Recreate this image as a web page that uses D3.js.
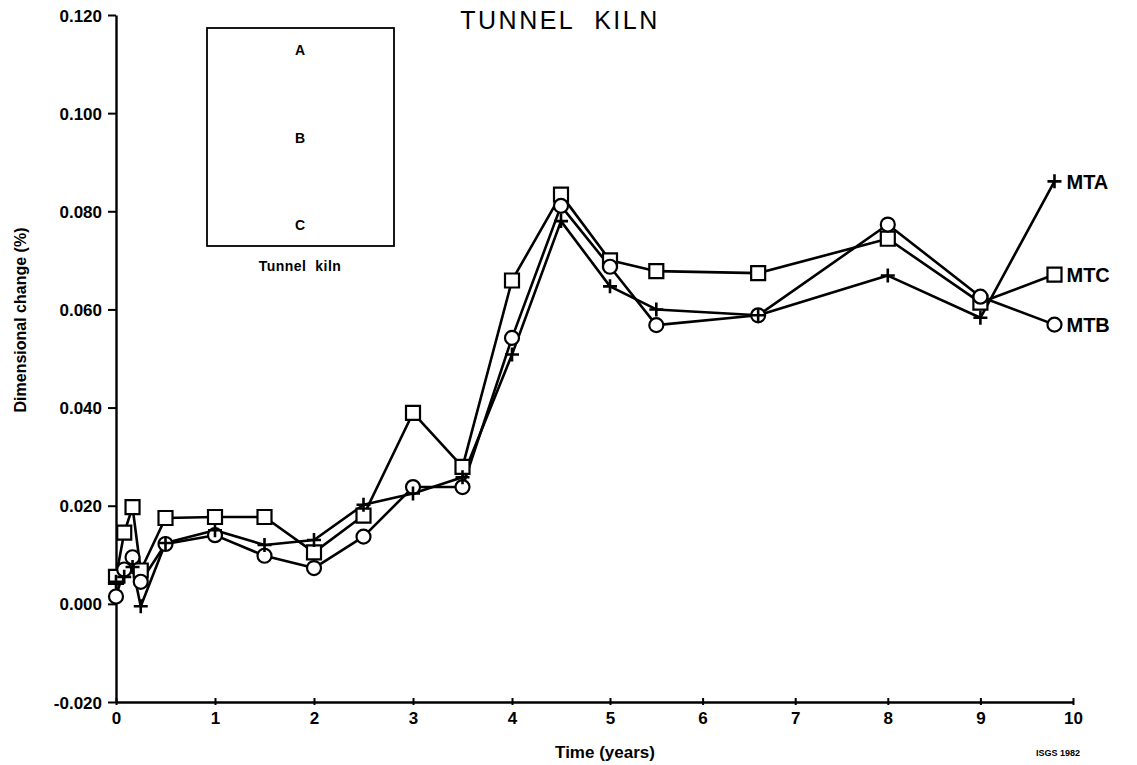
<!DOCTYPE html>
<html>
<head>
<meta charset="utf-8">
<script src="https://cdn.jsdelivr.net/npm/d3@7"></script>
<style>
  body { margin: 0; background: #fff; }
  svg { display: block; }
  text { font-family: "Liberation Sans", Arial, sans-serif; fill: #000; }
</style>
</head>
<body>
<svg id="chart" width="1137" height="765"></svg>
<script>
// time of each reading, years
const times = [0, 0.083, 0.167, 0.25, 0.5, 1, 1.5, 2, 2.5, 3, 3.5, 4, 4.5, 5, 5.5, 6.6, 8, 9, 9.8];
// dimensional change (%) per sample
const mta = [0.0045, 0.0055, 0.0075, -0.0005, 0.0124, 0.0150, 0.0120, 0.0130, 0.0202, 0.0225, 0.0258, 0.0508, 0.0780, 0.0647, 0.0600, 0.0588, 0.0669, 0.0583, 0.0861];
const mtb = [0.0015, 0.0070, 0.0095, 0.0045, 0.0122, 0.0140, 0.0098, 0.0073, 0.0137, 0.0238, 0.0238, 0.0542, 0.0811, 0.0687, 0.0568, 0.0588, 0.0773, 0.0626, 0.0569];
const mtc = [0.0055, 0.0145, 0.0197, 0.0068, 0.0175, 0.0177, 0.0177, 0.0105, 0.0180, 0.0389, 0.0279, 0.0659, 0.0834, 0.0700, 0.0678, 0.0674, 0.0744, 0.0614, 0.0671];
const seriesNames = ["MTC", "MTB", "MTA"];
const seriesSymbols = ["square", "circle", "cross"];

const xTicks = [0, 1, 2, 3, 4, 5, 6, 7, 8, 9, 10];
const xTickLabels = ["0", "1", "2", "3", "4", "5", "6", "7", "8", "9", "10"];
const yTicks = [-0.02, 0, 0.02, 0.04, 0.06, 0.08, 0.10, 0.12];
const yTickLabels = ["-0.020", "0.000", "0.020", "0.040", "0.060", "0.080", "0.100", "0.120"];
const insetLabels = ["A", "B", "C"];

const svg = d3.select("#chart");

// the scanned axis is a little uneven, so the x scale has a couple of breakpoints
const xScale = d3.scaleLinear().domain([0, 4, 5, 10]).range([116, 512, 610, 1073]);
const yScale = d3.scaleLinear().domain([-0.02, 0.12]).range([702, 15]);

// axes
const yAxis = svg.append("g")
    .attr("transform", `translate(${xScale(0)},0)`)
    .call(d3.axisLeft(yScale).tickValues(yTicks)
        .tickFormat((d, i) => yTickLabels[i]).tickSize(8).tickSizeOuter(0).tickPadding(6));
yAxis.select(".domain").attr("stroke", "#000").attr("stroke-width", 2.4);
yAxis.selectAll(".tick line").attr("stroke", "#000").attr("stroke-width", 2);
yAxis.selectAll(".tick text")
    .style("font-size", "17px").style("font-weight", "bold").attr("dy", "0.36em");

const xAxis = svg.append("g")
    .attr("transform", `translate(0,${yScale(-0.02)})`)
    .call(d3.axisBottom(xScale).tickValues(xTicks)
        .tickFormat((d, i) => xTickLabels[i]).tickSize(4).tickSizeOuter(0).tickPadding(6));
xAxis.select(".domain").attr("stroke", "#000").attr("stroke-width", 2.4);
xAxis.selectAll(".tick line").attr("stroke", "#000").attr("stroke-width", 2)
    .attr("y1", -4).attr("y2", 3);
xAxis.selectAll(".tick text")
    .style("font-size", "17px").style("font-weight", "bold");

// titles
svg.append("text")
    .attr("x", 560).attr("y", 29)
    .attr("text-anchor", "middle")
    .style("font-size", "25px").style("letter-spacing", "2.5px")
    .text("TUNNEL\u00a0\u00a0KILN");

svg.append("text")
    .attr("x", 605).attr("y", 758)
    .attr("text-anchor", "middle")
    .style("font-size", "17px").style("font-weight", "bold")
    .text("Time (years)");

svg.append("text")
    .attr("transform", "translate(26,320) rotate(-90)")
    .attr("text-anchor", "middle")
    .style("font-size", "16px").style("font-weight", "bold")
    .text("Dimensional change (%)");

svg.append("text")
    .attr("x", 1080).attr("y", 756)
    .attr("text-anchor", "end")
    .style("font-size", "9px").style("font-weight", "bold")
    .text("ISGS 1982");

// inset sketch of the kiln positions
svg.append("rect")
    .attr("x", 207).attr("y", 28).attr("width", 187).attr("height", 218)
    .attr("fill", "none").attr("stroke", "#000").attr("stroke-width", 1.8);
svg.selectAll(".inset")
    .data(insetLabels)
    .join("text")
    .attr("class", "inset")
    .attr("x", 300)
    .attr("y", (d, i) => 55 + i * 87.5)
    .attr("text-anchor", "middle")
    .style("font-size", "14px").style("font-weight", "bold")
    .text(d => d);
svg.append("text")
    .attr("x", 300).attr("y", 271)
    .attr("text-anchor", "middle")
    .style("font-size", "14px").style("font-weight", "bold")
    .style("letter-spacing", "0.5px")
    .text("Tunnel  kiln".replace("  ", "\u00a0\u00a0"));

// series
const series = [mtc, mtb, mta].map((vals, i) => ({
    name: seriesNames[i],
    symbol: seriesSymbols[i],
    points: vals.map((v, j) => ({ t: times[j], v: v }))
}));

const line = d3.line()
    .x(d => xScale(d.t))
    .y(d => yScale(d.v));

svg.append("g").selectAll("path")
    .data(series)
    .join("path")
    .attr("d", d => line(d.points))
    .attr("fill", "none")
    .attr("stroke", "#000")
    .attr("stroke-width", 2.6)
    .attr("stroke-linejoin", "round");

const symbolPath = {
    square: "M-7,-7H7V7H-7Z",
    circle: d3.symbol(d3.symbolCircle, 154)(),
    cross: "M-7,0H7M0,-7V7"
};

const markerGroups = svg.append("g").selectAll("g")
    .data(series)
    .join("g");

markerGroups.selectAll("path")
    .data(d => d.points.map(p => ({ ...p, symbol: d.symbol })))
    .join("path")
    .attr("transform", d => `translate(${xScale(d.t)},${yScale(d.v)})`)
    .attr("d", d => symbolPath[d.symbol])
    .attr("fill", d => d.symbol === "cross" ? "none" : "#fff")
    .attr("stroke", "#000")
    .attr("stroke-width", d => d.symbol === "cross" ? 2.6 : 2.2);

// series labels at the end of each line
svg.append("g").selectAll("text")
    .data(series)
    .join("text")
    .attr("x", d => xScale(d.points[d.points.length - 1].t) + 12)
    .attr("y", d => yScale(d.points[d.points.length - 1].v) + 7.5)
    .style("font-size", "20px").style("font-weight", "bold")
    .text(d => d.name);
</script>
</body>
</html>
